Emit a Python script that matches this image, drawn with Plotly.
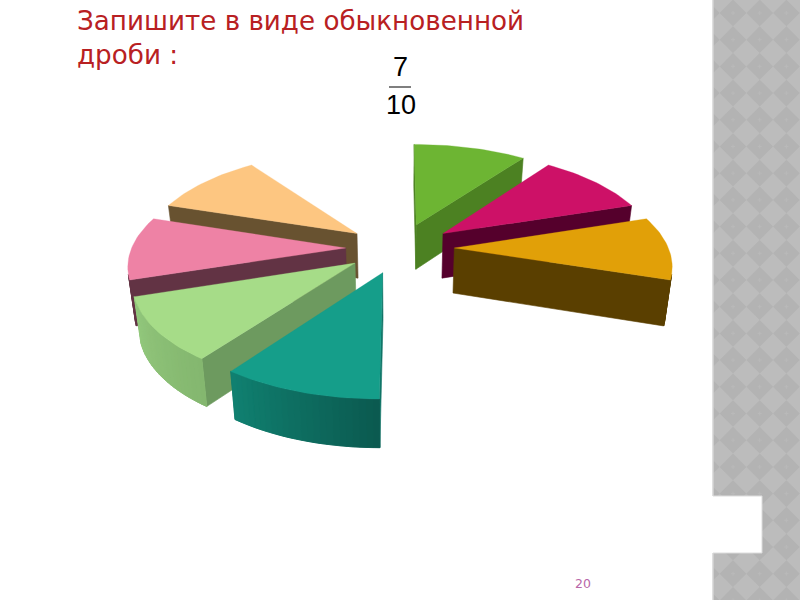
import math
import plotly.graph_objects as go

# --- data ---
slice_values = [1, 1, 1, 1, 1, 1, 1, 1, 1, 1]
top_colors = ["#6db533", "#cd1167", "#e1a008", None, None, "#159e8a", "#a6dc88", "#ee82a5", "#fdc681", None]
edge_colors = ["#4c8122", "#55002c", "#5a3f00", None, None, "#0f7466", "#6d9a5f", "#623344", "#685230", None]
rim_start_colors = ["#4c8122", "#55002c", "#5a3f00", None, None, "#0b5a50", "#84b76f", "#623344", "#685230", None]
rim_end_colors = ["#4c8122", "#55002c", "#5a3f00", None, None, "#108070", "#92c77c", "#623344", "#685230", None]
title_lines = ["Запишите в виде обыкновенной", "дроби :"]
fraction_top = "7"
fraction_bottom = "10"
page_number = "20"

# --- tilted exploded-pie projection ---
CX, CY, A, B, K, K2, SHRINK, DROP, EXPLODE = 400, 248, 214, 99, 0.15, 0.06, 0.025, 45, 0.254


def project(X, Y, z=0):
    den = 1 + K * Y
    return (CX + A * X / den * (1 - SHRINK * z), CY - B * Y / den + z * DROP / (1 + K2 * Y))


def hex_rgb(h):
    return [int(h[i:i + 2], 16) for i in (1, 3, 5)]


def mix(c1, c2, t):
    a, b = hex_rgb(c1), hex_rgb(c2)
    return "rgb(%d,%d,%d)" % tuple(round(a[i] + (b[i] - a[i]) * t) for i in range(3))


def area(points):
    s = 0
    for k, p in enumerate(points):
        q = points[(k + 1) % len(points)]
        s += p[0] * q[1] - q[0] * p[1]
    return s


fig = go.Figure()


def poly(points, color, line=0.6):
    xs = [p[0] for p in points] + [points[0][0]]
    ys = [p[1] for p in points] + [points[0][1]]
    fig.add_trace(go.Scatter(x=xs, y=ys, mode="lines", fill="toself", fillcolor=color,
                             line=dict(color=color, width=line), hoverinfo="skip", showlegend=False))


# --- background strip: diamond pattern ---
STRIP_L, STRIP_R, STEP, HALF = 713, 800, 26.7, 13.35
poly([(STRIP_L, 0), (STRIP_R, 0), (STRIP_R, 600), (STRIP_L, 600)], "#bcbcbc", 0)
dx, dy = [], []
px, py = [], []
for j in range(0, 24):
    cy = 13 + STEP * j
    for i in range(-1, 4):
        cx = 733 + STEP * i
        if cx < STRIP_L:
            over = HALF - (STRIP_L - cx)
            pts = [(STRIP_L, cy - over), (cx + HALF, cy), (STRIP_L, cy + over)]
        else:
            pts = [(cx, cy - HALF), (cx + HALF, cy), (cx, cy + HALF), (cx - HALF, cy)]
            px += [cx - 2, cx + 2, None, cx, cx, None]
            py += [cy, cy, None, cy - 2, cy + 2, None]
        dx += [p[0] for p in pts] + [pts[0][0], None]
        dy += [p[1] for p in pts] + [pts[0][1], None]
fig.add_trace(go.Scatter(x=dx, y=dy, mode="lines", fill="toself", fillcolor="#b3b3b3",
                         line=dict(width=0, color="#b3b3b3"), hoverinfo="skip", showlegend=False))
fig.add_trace(go.Scatter(x=px, y=py, mode="lines", line=dict(width=1, color="#b9b9b9"),
                         hoverinfo="skip", showlegend=False))
fig.add_trace(go.Scatter(x=[STRIP_L, STRIP_L], y=[0, 600], mode="lines",
                         line=dict(width=1.5, color="#d4d4d4"), hoverinfo="skip", showlegend=False))
poly([(STRIP_L - 1, 496), (762, 496), (762, 553), (STRIP_L - 1, 553)], "#ffffff", 0)
fig.add_trace(go.Scatter(x=[STRIP_L, 762, 762, STRIP_L], y=[496, 496, 553, 553], mode="lines",
                         line=dict(width=1, color="#dcdcdc"), hoverinfo="skip", showlegend=False))

# --- pie slices ---
total = sum(slice_values)
slices = []
start = 0.0
for i, v in enumerate(slice_values):
    sweep = 2 * math.pi * v / total
    mid = start + sweep / 2
    ox, oy = EXPLODE * math.sin(mid), EXPLODE * math.cos(mid)
    slices.append((oy, i, start, sweep, ox))
    start += sweep

SEGMENTS = 24
for oy, i, a0, sweep, ox in sorted(slices, key=lambda s: -s[0]):
    if top_colors[i] is None:
        continue
    rim = [(ox + math.sin(a0 + sweep * t / SEGMENTS), oy + math.cos(a0 + sweep * t / SEGMENTS))
           for t in range(SEGMENTS + 1)]
    # flat side faces, only those turned to the viewer
    for end, sign in ((rim[0], -1), (rim[-1], 1)):
        quad = [project(ox, oy), project(*end), project(*end, 1), project(ox, oy, 1)]
        if area(quad) * sign > 0:
            poly(quad, edge_colors[i])
    # curved rim, only where it is turned to the viewer
    visible = []
    for t in range(SEGMENTS):
        quad = [project(*rim[t]), project(*rim[t + 1]), project(*rim[t + 1], 1), project(*rim[t], 1)]
        if area(quad) < 0:
            visible.append((t, quad))
    if visible:
        base = [project(*rim[t]) for t, _ in visible] + [project(*rim[visible[-1][0] + 1])]
        base += [project(*rim[visible[-1][0] + 1], 1)] + [project(*rim[t], 1) for t, _ in reversed(visible)]
        poly(base, mix(rim_start_colors[i], rim_end_colors[i], 0.5), 0.4)
        for t, quad in visible:
            poly(quad, mix(rim_start_colors[i], rim_end_colors[i], t / (SEGMENTS - 1)), 0.9)
    poly([project(ox, oy)] + [project(*p) for p in rim], top_colors[i], 0.3)

# --- text ---
RED = "#b82022"
ann = [
    dict(x=74.5, y=20.5, text=title_lines[0], xanchor="left", yanchor="middle",
         font=dict(family="DejaVu Sans", size=26.2, color=RED)),
    dict(x=74.5, y=55, text=title_lines[1], xanchor="left", yanchor="middle",
         font=dict(family="DejaVu Sans", size=26.2, color=RED)),
    dict(x=400, y=67, text=fraction_top, xanchor="center", yanchor="middle",
         font=dict(family="Liberation Sans", size=27, color="#000000")),
    dict(x=401, y=105, text=fraction_bottom, xanchor="center", yanchor="middle",
         font=dict(family="Liberation Sans", size=27, color="#000000")),
    dict(x=583, y=583.5, text=page_number, xanchor="center", yanchor="middle",
         font=dict(family="DejaVu Sans", size=12.5, color="#b866a8")),
]
for a in ann:
    a.update(xref="x", yref="y", showarrow=False)
fig.add_trace(go.Scatter(x=[389, 411], y=[87, 87], mode="lines", line=dict(width=1.5, color="#555555"),
                         hoverinfo="skip", showlegend=False))

fig.update_layout(
    width=800, height=600, margin=dict(l=0, r=0, t=0, b=0), autosize=False,
    paper_bgcolor="white", plot_bgcolor="white", showlegend=False, annotations=ann,
    xaxis=dict(range=[0, 800], visible=False, fixedrange=True),
    yaxis=dict(range=[600, 0], visible=False, fixedrange=True),
)
fig.write_html("out.html", config=dict(displayModeBar=False),
               post_script="document.body.style.margin='0';document.body.style.overflow='hidden';")
